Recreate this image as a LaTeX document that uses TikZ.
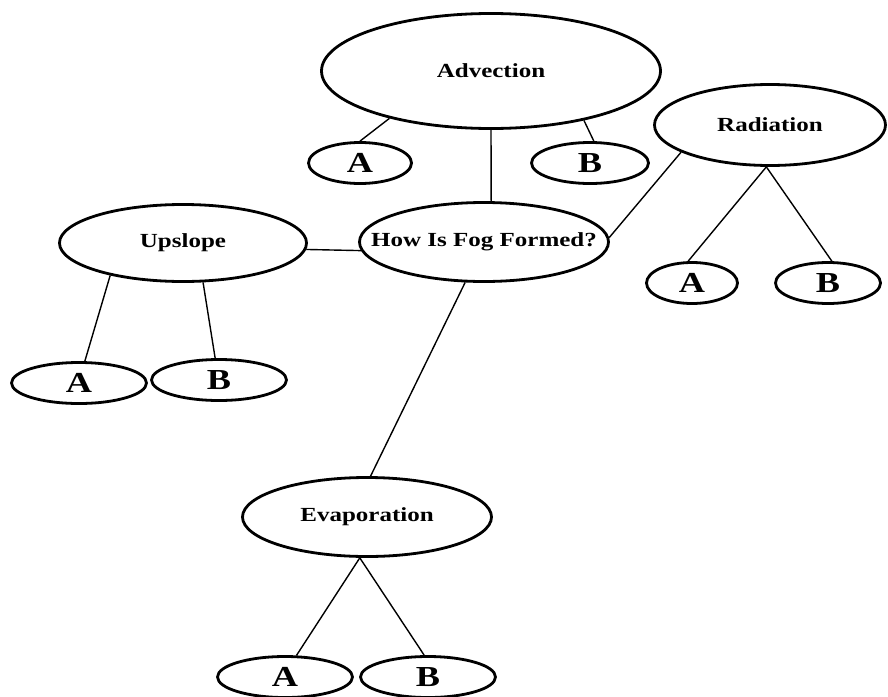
\documentclass[tikz,border=0pt]{standalone}
\usepackage{fontspec}
\setmainfont{Liberation Serif}[FakeStretch=1.25]
\usetikzlibrary{shapes.geometric}

\begin{document}
\begin{tikzpicture}[x=1pt,y=-1pt,
  topic/.style={draw,ellipse,line width=2.8pt,font=\fontsize{20}{24}\selectfont\bfseries},
  leaf/.style={draw,ellipse,line width=2.8pt,minimum height=41pt,font=\fontsize{29}{32}\selectfont\bfseries},
  link/.style={line width=1.4pt}]
  \useasboundingbox (0,0) rectangle (888,696);
  % main topics
  \node[topic,minimum width=339pt,minimum height=115pt] (adv) at (491,71) {Advection};
  \node[topic,minimum width=231pt,minimum height=81pt] (rad) at (770,125) {Radiation};
  \node[topic,minimum width=249pt,minimum height=79pt,inner xsep=-25pt] (q) at (484,242) {How Is Fog Formed?};
  \node[topic,minimum width=247pt,minimum height=77pt] (up) at (183,243) {Upslope};
  \node[topic,minimum width=249pt,minimum height=79pt] (ev) at (367,517) {Evaporation};
  % leaves
  \node[leaf,minimum width=103pt] (advA) at (360,163) {A};
  \node[leaf,minimum width=117pt] (advB) at (590,163) {B};
  \node[leaf,minimum width=91pt] (radA) at (692,283) {A};
  \node[leaf,minimum width=105pt] (radB) at (828,283) {B};
  \node[leaf,minimum width=135pt] (upA) at (79,383) {A};
  \node[leaf,minimum width=135pt] (upB) at (219,380) {B};
  \node[leaf,minimum width=135pt] (evA) at (285,677) {A};
  \node[leaf,minimum width=135pt] (evB) at (428,677) {B};
  % connectors
  \draw[link] (adv.205) -- (advA.north);
  \draw[link] (adv.332) -- (advB.80);
  \draw[link] (adv.south) -- (q.80);
  \draw[link] (up.357) -- (q.184);
  \draw[link] (rad.197) -- (q.2);
  \draw[link] (q.245) -- (ev.85);
  \draw[link] (up.204) -- (upA.75);
  \draw[link] (up.297) -- (upB.100);
  \draw[link] (rad.265) -- (radA.100);
  \draw[link] (rad.265) -- (radB.80);
  \draw[link] (ev.260) -- (evA.62);
  \draw[link] (ev.260) -- (evB.100);
\end{tikzpicture}
\end{document}
